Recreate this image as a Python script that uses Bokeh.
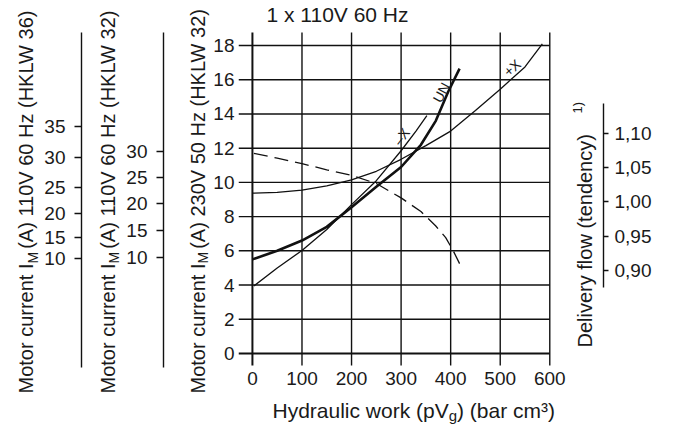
import math
from bokeh.plotting import figure
from bokeh.layouts import row, column
from bokeh.models import Range1d, LinearAxis, FixedTicker
from bokeh.core.properties import value
from bokeh.embed import file_html
from bokeh.resources import INLINE

# ---------------- data ----------------
x_ticks = [0, 100, 200, 300, 400, 500, 600]
y_ticks = [0, 2, 4, 6, 8, 10, 12, 14, 16, 18]

# motor current curves (A, 230V 50 Hz HKLW 32 scale) vs hydraulic work
un_x = [0, 50, 100, 150, 200, 250, 300, 340, 370, 395, 418]
un_y = [5.5, 6.0, 6.6, 7.4, 8.55, 9.75, 10.9, 12.2, 13.6, 15.3, 16.65]
minus_x = [3, 50, 100, 150, 200, 250, 300, 330, 352]
minus_y = [3.95, 5.0, 6.02, 7.25, 8.7, 10.1, 11.85, 13.0, 13.9]
plus_x = [0, 50, 100, 150, 200, 250, 300, 350, 400, 450, 500, 550, 585]
plus_y = [9.37, 9.42, 9.55, 9.8, 10.15, 10.65, 11.35, 12.15, 13.0, 14.2, 15.45, 16.75, 18.1]
# delivery flow tendency (dashed, right scale)
flow_x = [3, 50, 100, 150, 200, 250, 300, 340, 370, 390, 405, 418]
flow_y = [1.071, 1.064, 1.056, 1.047, 1.039, 1.027, 1.006, 0.986, 0.965, 0.948, 0.929, 0.910]

curve_label_text = ["UN", "\u2013X", "+X"]
curve_label_x = [381, 301, 524]
curve_label_y = [15.25, 12.68, 16.7]
curve_label_angle = [62, 53, 42]

flow_ticks = [0.90, 0.95, 1.00, 1.05, 1.10]
flow_tick_labels = ["0,90", "0,95", "1,00", "1,05", "1,10"]

hklw36_labels = ["35", "30", "25", "20", "15", "10"]
hklw36_pos = [13.27, 11.45, 9.70, 8.18, 6.78, 5.55]
hklw32_labels = ["30", "25", "20", "15", "10"]
hklw32_pos = [11.82, 10.27, 8.75, 7.19, 5.63]

title_text = "1 x 110V 60 Hz"
left_titles = ["110V 60 Hz (HKLW 36)", "110V 60 Hz (HKLW 32)", "230V 50 Hz (HKLW 32)"]

# ---------------- layout / style ----------------
FONT = "Liberation Sans"
TXT = "#1a1a1a"
LINE = "#111111"
TICK_FS = "19px"
Y0, Y1 = -0.88, 18.88
FT, FB = 30, 368          # page y of frame top / bottom

def dy(py):
    return Y1 - (py - FT) * (Y1 - Y0) / (FB - FT)

W = {' ': 278, '(': 333, ')': 333, ',': 278, '-': 333, '.': 278,
     'A': 667, 'H': 722, 'K': 667, 'L': 556, 'M': 833, 'V': 667, 'W': 944,
     'I': 278, 'D': 722, 'a': 556, 'b': 556, 'c': 500, 'd': 556, 'e': 556,
     'f': 278, 'g': 556, 'h': 556, 'i': 222, 'k': 500, 'l': 222, 'm': 833,
     'n': 556, 'o': 556, 'p': 556, 'r': 333, 't': 278, 'u': 556, 'v': 500,
     'w': 722, 'x': 500, 'y': 500, 'z': 500, '\u00b3': 333}

def tw(s, size):
    return sum(W.get(c, 556) for c in s) * size / 1000.0

def clean(f):
    f.outline_line_color = None
    f.grid.visible = False
    return f

def strip(x0, y0, w, h):
    # a text strip whose data coordinates are page pixels (y negated)
    f = figure(width=w, height=h, x_range=Range1d(x0, x0 + w),
               y_range=Range1d(-(y0 + h), -y0), x_axis_location=None,
               y_axis_location=None, title=None, min_border=0,
               frame_align=False, toolbar_location=None, output_backend="svg")
    return clean(f)

def txt(f, x, y, s, size, angle=0.0, align="left"):
    f.text(x=[x], y=[y], text=[s], angle=angle, text_align=align,
           text_baseline="middle", text_font=value(FONT),
           text_font_size=value(f"{size}px"), text_color=TXT)

def vertical_title(f, xc, bottom, volt, sub_shift):
    p1 = "Motor current I"
    p3 = " (A)  " + volt
    w1 = tw(p1, 20)
    wm = tw("M", 14) + 3
    a = math.pi / 2
    txt(f, xc, -bottom, p1, 20, angle=a)
    txt(f, xc + sub_shift, -(bottom - w1), "M", 14, angle=a)
    txt(f, xc, -(bottom - w1 - wm), p3, 20, angle=a)

yr = Range1d(Y0, Y1)

def axis_fig(width, left, frame_w):
    f = figure(width=width, height=430, x_range=Range1d(0, frame_w), y_range=yr,
               x_axis_location=None, y_axis_location="left", title=None,
               min_border_left=left, min_border_right=0,
               min_border_top=FT, min_border_bottom=430 - FB, frame_align=False,
               toolbar_location=None, output_backend="svg")
    return clean(f)

def style_side_axis(ax, pos, labels):
    ax.ticker = FixedTicker(ticks=pos)
    ax.major_label_overrides = {p: l for p, l in zip(pos, labels)}
    ax.bounds = (dy(367), dy(32))
    ax.axis_line_width = 1.4
    ax.axis_line_color = LINE
    ax.major_tick_line_color = LINE
    ax.major_tick_line_width = 1.3
    ax.major_tick_out = 7
    ax.major_tick_in = 0
    ax.minor_tick_line_color = None
    ax.major_label_standoff = 9
    ax.major_label_text_font = FONT
    ax.major_label_text_font_size = TICK_FS
    ax.major_label_text_color = TXT

# ---- strip 1 + axis 1 (110V 60 Hz HKLW 36) ----
s1 = strip(0, 0, 41, 430)
vertical_title(s1, 25, 393, left_titles[0], 7)
f1 = axis_fig(49, 38, 11)            # page x 41..90, axis line at 79
style_side_axis(f1.yaxis[0], hklw36_pos, hklw36_labels)

# ---- strip 2 + axis 2 (110V 60 Hz HKLW 32) ----
s2 = strip(90, 0, 32, 430)
vertical_title(s2, 107, 393, left_titles[1], 6)
f2 = axis_fig(53, 41, 12)            # page x 122..175, axis line at 163
style_side_axis(f2.yaxis[0], hklw32_pos, hklw32_labels)

# ---- strip 3 (230V 50 Hz HKLW 32) ----
s3 = strip(175, 0, 35, 430)
vertical_title(s3, 197, 393, left_titles[2], 5)

# ---- main chart (page x 210..674, y 30..395) ----
FL3, FR3 = 236, 603
X0, X1 = -28.1, 708.4

def dx3(px):
    return X0 + (px - FL3) * (X1 - X0) / (FR3 - FL3)

F0 = 0.90 + (Y0 - 4.85) / 40.04
F1 = 0.90 + (Y1 - 4.85) / 40.04

p = figure(width=464, height=365, x_range=Range1d(X0, X1), y_range=yr, title=None,
           min_border_left=FL3 - 210, min_border_right=674 - FR3,
           min_border_top=0, min_border_bottom=395 - FB, frame_align=False,
           toolbar_location=None, output_backend="svg")
clean(p)
p.extra_y_ranges = {"flow": Range1d(F0, F1)}

# grid drawn as segments (extending a little past the axes as in the original)
p.segment(x0=x_ticks, y0=[dy(365)] * len(x_ticks), x1=x_ticks,
          y1=[dy(32)] * len(x_ticks), line_color=LINE,
          line_width=[2.0 if v == 0 else 1.4 for v in x_ticks])
p.segment(x0=[X0] * len(y_ticks), y0=y_ticks, x1=[x_ticks[-1]] * len(y_ticks),
          y1=y_ticks, line_color=LINE,
          line_width=[2.0 if v == 0 else 1.4 for v in y_ticks])

# curves
p.line(plus_x, plus_y, line_color=LINE, line_width=1.3)
p.line(minus_x, minus_y, line_color=LINE, line_width=1.3)
p.line(un_x, un_y, line_color=LINE, line_width=2.6)
p.line(flow_x, flow_y, y_range_name="flow", line_color=LINE, line_width=1.3,
       line_dash="14 7")

p.text(x=curve_label_x, y=curve_label_y, text=curve_label_text,
       angle=curve_label_angle, angle_units="deg", text_align="center",
       text_baseline="middle", text_font=value(FONT),
       text_font_size=value("14px"), text_color=TXT)

for ax in (p.xaxis[0], p.yaxis[0]):
    ax.axis_line_color = None
    ax.major_tick_in = 0
    ax.major_tick_out = 0
    ax.minor_tick_line_color = None
    ax.major_tick_line_color = None
    ax.major_label_text_font = FONT
    ax.major_label_text_font_size = TICK_FS
    ax.major_label_text_color = TXT
p.xaxis[0].ticker = FixedTicker(ticks=x_ticks)
p.xaxis[0].major_label_standoff = 3
p.yaxis[0].ticker = FixedTicker(ticks=y_ticks)
p.yaxis[0].major_label_standoff = 4

rax = LinearAxis(y_range_name="flow", ticker=FixedTicker(ticks=flow_ticks))
rax.major_label_overrides = {t: l for t, l in zip(flow_ticks, flow_tick_labels)}
rax.bounds = (0.875, 1.144)
rax.axis_line_width = 1.4
rax.axis_line_color = LINE
rax.major_tick_line_color = LINE
rax.major_tick_line_width = 1.3
rax.major_tick_in = 0
rax.major_tick_out = 5
rax.minor_tick_line_color = None
rax.major_label_standoff = 6
rax.major_label_text_font = FONT
rax.major_label_text_font_size = TICK_FS
rax.major_label_text_color = TXT
p.add_layout(rax, "right")

# delivery flow title (reads upwards, left of its axis)
a = math.pi / 2
p.text(x=[dx3(584)], y=[dy(347)], text=["Delivery flow (tendency)"], angle=a,
       text_align="left", text_baseline="middle", text_font=value(FONT),
       text_font_size=value("20px"), text_color=TXT)
p.text(x=[dx3(577)], y=[dy(113)], text=["1)"], angle=a,
       text_align="left", text_baseline="middle", text_font=value(FONT),
       text_font_size=value("13px"), text_color=TXT)

# ---- top title strip ----
top = strip(210, 0, 464, 30)
txt(top, 337, -13.5, title_text, 21, align="center")

# ---- bottom x-axis title strip (subscript g) ----
bot = strip(210, 395, 464, 35)
t1 = "Hydraulic work (pV"
xs = 272
txt(bot, xs, -409.5, t1, 21)
xs += tw(t1, 21)
txt(bot, xs, -414.5, "g", 15)
xs += tw("g", 15)
txt(bot, xs, -409.5, ") (bar cm\u00b3)", 21)

layout = row(s1, f1, s2, f2, s3, column(top, p, bot))
open("out.html", "w").write(file_html(layout, INLINE))
